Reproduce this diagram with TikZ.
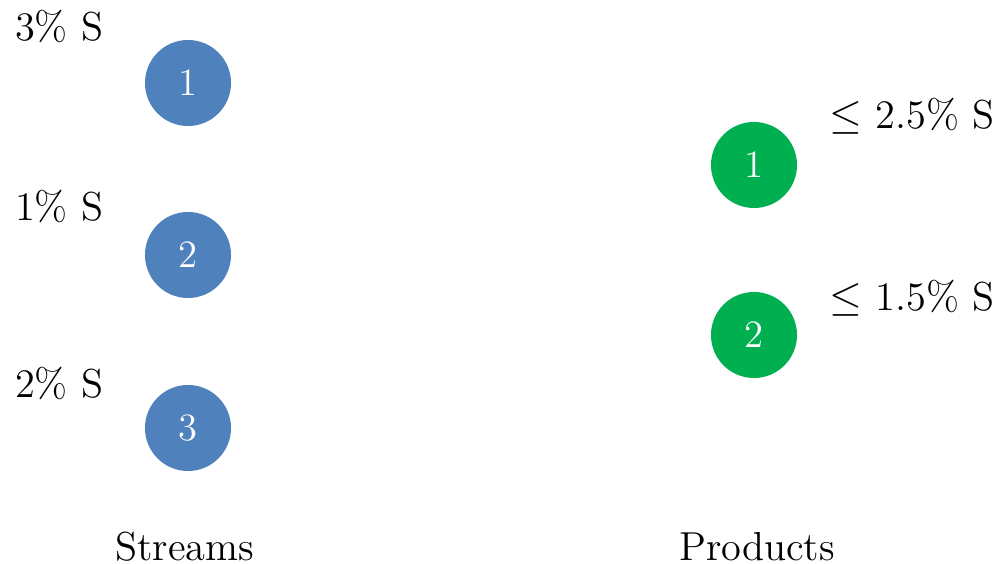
\documentclass[tikz,border=0pt]{standalone}
\usepackage{tikz}
\usetikzlibrary{positioning}
\definecolor{streamBlue}{RGB}{79,129,189}
\definecolor{prodGreen}{RGB}{0,176,80}

\begin{document}
\begin{tikzpicture}[
    x=0.01cm, y=-0.01cm,
    dot/.style={circle, minimum size=0.86cm, inner sep=0pt, text=white,
                font=\fontsize{11}{13}\selectfont},
    stream/.style={dot, fill=streamBlue},
    prod/.style={dot, fill=prodGreen},
    lbl/.style={inner sep=0pt, font=\fontsize{11.5}{14}\selectfont},
  ]
    \useasboundingbox (0,0) rectangle (1002,564);

    % Streams
    \node[stream] (s1) at (188,83)  {1};
    \node[stream] (s2) at (188,255) {2};
    \node[stream] (s3) at (188,428) {3};
    \node[lbl] (l1) at (59,26)  {3\% S};
    \node[lbl] (l2) at (59,206) {1\% S};
    \node[lbl] (l3) at (59,383) {2\% S};

    % Products
    \node[prod] (p1) at (754,165) {1};
    \node[prod] (p2) at (754,335) {2};
    \node[lbl] (q1) at (912,116) {$\leq$ 2.5\% S};
    \node[lbl] (q2) at (912,298) {$\leq$ 1.5\% S};

    % Column titles
    \node[lbl] (st) at (185,547) {Streams};
    \node[lbl] (pr) at (757,547) {Products};
  \end{tikzpicture}
\end{document}
